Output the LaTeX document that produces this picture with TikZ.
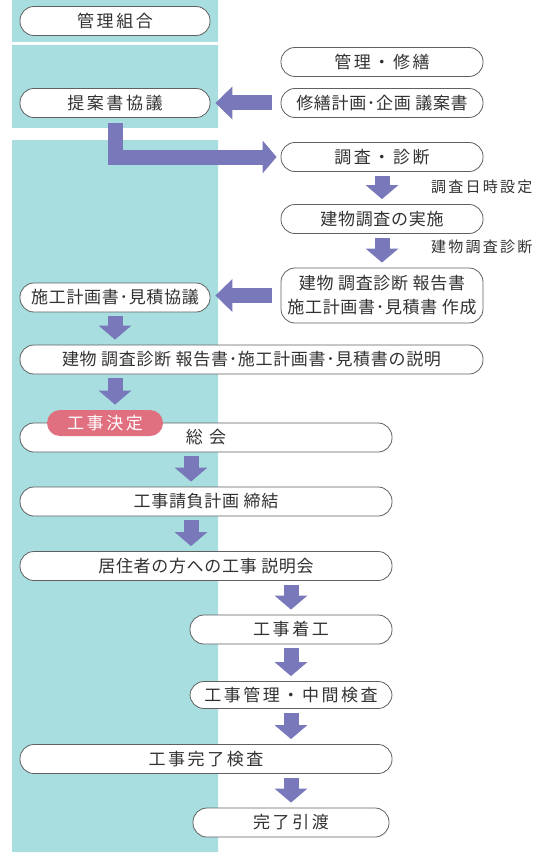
\documentclass[tikz,border=0pt]{standalone}
\usepackage{fontspec}
\setmainfont{Noto Sans CJK JP}[LetterSpace=4]
\newfontfamily\jpwide{Noto Sans CJK JP}[LetterSpace=15]
\usetikzlibrary{arrows.meta}
\definecolor{bgteal}{RGB}{168,222,224}
\definecolor{arrowblue}{RGB}{120,120,186}
\definecolor{ketteired}{RGB}{224,112,128}
\definecolor{txtgray}{RGB}{50,50,50}

\begin{document}
\begin{tikzpicture}[x=1pt,y=-1pt,
  box/.style={draw=gray!75!black,line width=0.8pt,fill=white,rounded corners=14pt,minimum height=29pt,inner sep=0pt,text=txtgray,font=\fontsize{17}{24}\selectfont},
  fat/.style={draw=arrowblue,line width=15pt,-{Triangle[width=32pt,length=14pt]},shorten <=4pt,shorten >=5pt},
  note/.style={anchor=west,inner sep=0pt,text=txtgray,font=\jpwide\fontsize{15}{18}\selectfont}]
  \useasboundingbox (0,0) rectangle (537,864);
  % 背景（管理組合の列）
  \fill[bgteal] (12,0) rectangle (218,42) (12,45) rectangle (218,128) (12,140) rectangle (218,852);
  % 右の列
  \node[box,minimum width=202pt] (shuzen) at (382,62) {\jpwide 管理・修繕};
  \node[box,minimum width=202pt] (keikaku) at (382,103) {修繕計画･企画 議案書};
  \node[box,minimum width=202pt] (chosa) at (382,157) {\jpwide 調査・診断};
  \node[box,minimum width=202pt] (jisshi) at (382,219) {建物調査の実施};
  \node[box,minimum width=202pt,minimum height=55pt,align=center] (hokoku) at (382,295.5) {建物 調査診断 報告書\\施工計画書･見積書 作成};
  \node[note] (nichiji) at (431,187) {調査日時設定};
  \node[note] (shindan) at (431,247) {建物調査診断};
  % 左の列
  \node[box,minimum width=190pt] (kumiai) at (115,21) {\jpwide 管理組合};
  \node[box,minimum width=190pt] (teian) at (115,103) {\jpwide 提案書協議};
  \node[box,minimum width=190pt] (sekou) at (115,297.5) {施工計画書･見積協議};
  % 全体
  \node[box,minimum width=463pt] (setsumei) at (251.5,359.5) {建物 調査診断 報告書･施工計画書･見積書の説明};
  \node[box,minimum width=372pt] (sokai) at (206,437.5) {\jpwide 総\ 会};
  \node[box,fill=ketteired,draw=none,text=white,minimum width=116pt,minimum height=26pt,rounded corners=13pt] (kettei) at (105,423) {\jpwide 工事決定};
  \node[box,minimum width=372pt] (ukeoi) at (206,501.5) {工事請負計画 締結};
  \node[box,minimum width=372pt] (kyoju) at (206,566) {居住者の方への工事 説明会};
  \node[box,minimum width=202pt] (chakko) at (291,629.5) {\jpwide 工事着工};
  \node[box,minimum width=202pt,minimum height=27pt] (kanri) at (291,695) {\jpwide 工事管理・中間検査};
  \node[box,minimum width=372pt] (kanryo) at (206,759) {\jpwide 工事完了検査};
  \node[box,minimum width=196pt] (hikiwatashi) at (291,822.5) {\jpwide 完了引渡};
  \coordinate (colm) at (191,0);
  % 矢印
  \draw[fat,shorten <=9pt,-{Triangle[width=32pt,length=17pt]}] (keikaku.west) -- (teian.east);
  \draw[fat,shorten <=5pt,shorten >=4pt] (teian.south) |- (chosa.west);
  \draw[fat] (chosa.south) -- (jisshi.north);
  \draw[fat] (jisshi.south) -- (hokoku.north);
  \draw[fat,shorten <=9pt,-{Triangle[width=32pt,length=17pt]}] (hokoku.west) -- (hokoku.west -| sekou.east);
  \draw[fat] (sekou.south) -- (sekou.south |- setsumei.north);
  \draw[fat] (setsumei.south -| sekou) -- (kettei.north -| sekou);
  \draw[fat] (sokai.south -| colm) -- (ukeoi.north -| colm);
  \draw[fat] (ukeoi.south -| colm) -- (kyoju.north -| colm);
  \draw[fat] (kyoju.south -| chakko) -- (chakko.north);
  \draw[fat] (chakko.south) -- (kanri.north);
  \draw[fat] (kanri.south) -- (kanryo.north -| kanri);
  \draw[fat] (kanryo.south -| hikiwatashi) -- (hikiwatashi.north);
\end{tikzpicture}
\end{document}
